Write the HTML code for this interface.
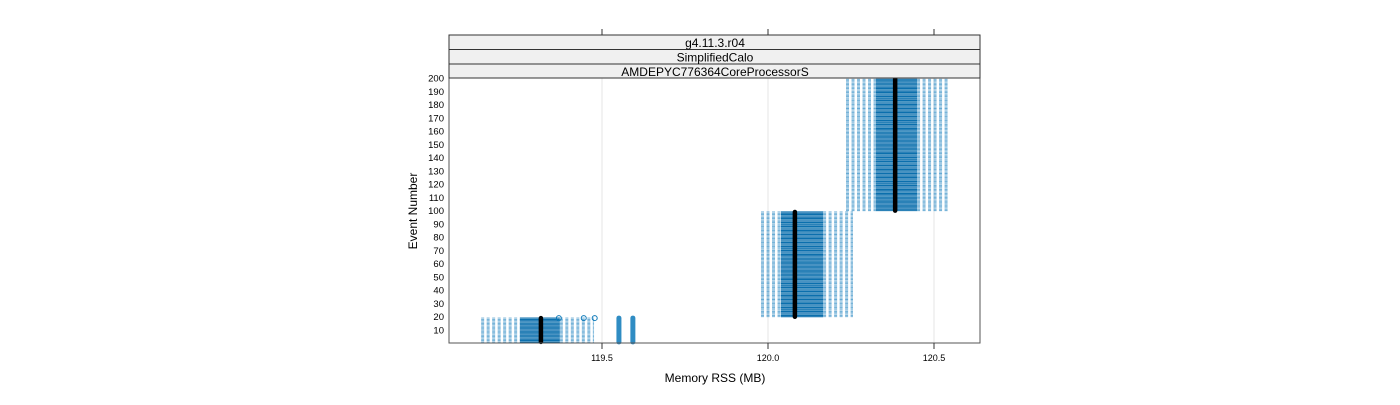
<!DOCTYPE html>
<html><head><meta charset="utf-8"><style>
body{margin:0;background:#fff;width:1400px;height:400px;overflow:hidden}
svg text{font-family:"Liberation Sans",sans-serif}
</style></head><body>
<svg id="chart" width="1400" height="400" xmlns="http://www.w3.org/2000/svg">
<g id="grid"></g>
<g id="marks"></g>
<rect x="449" y="78" width="531" height="265" fill="none" stroke="#555"/>
<g>
<rect x="449" y="35" width="531" height="14.5" fill="#f0f0f0" stroke="#333"/>
<rect x="449" y="49.5" width="531" height="14.5" fill="#f0f0f0" stroke="#333"/>
<rect x="449" y="64" width="531" height="14" fill="#f0f0f0" stroke="#333"/>
<text x="715" y="47" font-size="12" text-anchor="middle">g4.11.3.r04</text>
<text x="715" y="61.5" font-size="12" text-anchor="middle">SimplifiedCalo</text>
<text x="715" y="76" font-size="12" text-anchor="middle">AMDEPYC776364CoreProcessorS</text>
</g>
<g id="axes"></g>
<text x="715" y="382" font-size="12" text-anchor="middle">Memory RSS (MB)</text>
<text transform="translate(417,211) rotate(-90)" font-size="12" text-anchor="middle">Event Number</text>
</svg>
<script>
const xTicks=[119.5,120.0,120.5];
const xTickLabels=["119.5","120.0","120.5"];
const yTicks=[10,20,30,40,50,60,70,80,90,100,110,120,130,140,150,160,170,180,190,200];
const groupStart=[1,20,100];
const groupEnd=[19,99,200];
const whiskerLo=[119.136,119.979,120.235];
const q1=[119.253,120.039,120.325];
const median=[119.316,120.081,120.383];
const q3=[119.373,120.166,120.449];
const whiskerHi=[119.476,120.256,120.542];
const outlierVals=[119.551,119.593];
const topOutliers=[119.37,119.445,119.478];

const NS="http://www.w3.org/2000/svg";
const X=v=>768+(v-120)*332;
const Y=n=>330-(n-10)*(252/190);
function mk(tag,attrs,parent){const e=document.createElementNS(NS,tag);for(const k in attrs)e.setAttribute(k,attrs[k]);parent.appendChild(e);return e;}
const grid=document.getElementById('grid'),marks=document.getElementById('marks'),axes=document.getElementById('axes');
xTicks.forEach((t,i)=>{
 const g=mk('line',{x1:X(t),x2:X(t),y1:78,y2:343,stroke:'#e6e6e6'},grid);
 
 
 const a=mk('line',{x1:X(t),x2:X(t),y1:343,y2:349,stroke:'#333'},axes);
 
 
 const b=mk('line',{x1:X(t),x2:X(t),y1:29,y2:35,stroke:'#333'},axes);
 
 
 const l=mk('text',{x:X(t),y:361,'font-size':9,'text-anchor':'middle'},axes);
 l.textContent=xTickLabels[i];
 
 
});
yTicks.forEach(t=>{
 const l=mk('text',{x:444,y:Y(t)+3.5,'font-size':9.5,'text-anchor':'end'},axes);
 l.textContent=t;
 
 
});
groupStart.forEach((s,gi)=>{
 for(let n=s;n<=groupEnd[gi];n++){
  const y=Y(n);
  const w1=mk('line',{x1:X(whiskerLo[gi]),x2:X(q1[gi]),y1:y,y2:y,stroke:'#3d93c8','stroke-width':0.9,'stroke-dasharray':'3,2.5','stroke-opacity':0.8},marks);
  
  
  const w2=mk('line',{x1:X(q3[gi]),x2:X(whiskerHi[gi]),y1:y,y2:y,stroke:'#3d93c8','stroke-width':0.9,'stroke-dasharray':'3,2.5','stroke-opacity':0.8},marks);
  
  
  const bx=mk('line',{x1:X(q1[gi]),x2:X(q3[gi]),y1:y,y2:y,stroke:'#0b6fad','stroke-width':1.1},marks);
  
  
 }
 const md=mk('line',{x1:X(median[gi]),x2:X(median[gi]),y1:Y(s),y2:Y(groupEnd[gi]),stroke:'#000','stroke-width':4.5,'stroke-linecap':'round'},marks);
 
 
});
outlierVals.forEach(v=>{
 const o=mk('line',{x1:X(v),x2:X(v),y1:Y(1),y2:Y(19),stroke:'#0b78b8','stroke-width':5,'stroke-linecap':'round','stroke-opacity':0.85},marks);
 
 
});
topOutliers.forEach(v=>{
 const c=mk('circle',{cx:X(v),cy:Y(19),r:2.5,fill:'none',stroke:'#0b78b8','stroke-width':1},marks);
 
 
});
</script>
</body></html>
